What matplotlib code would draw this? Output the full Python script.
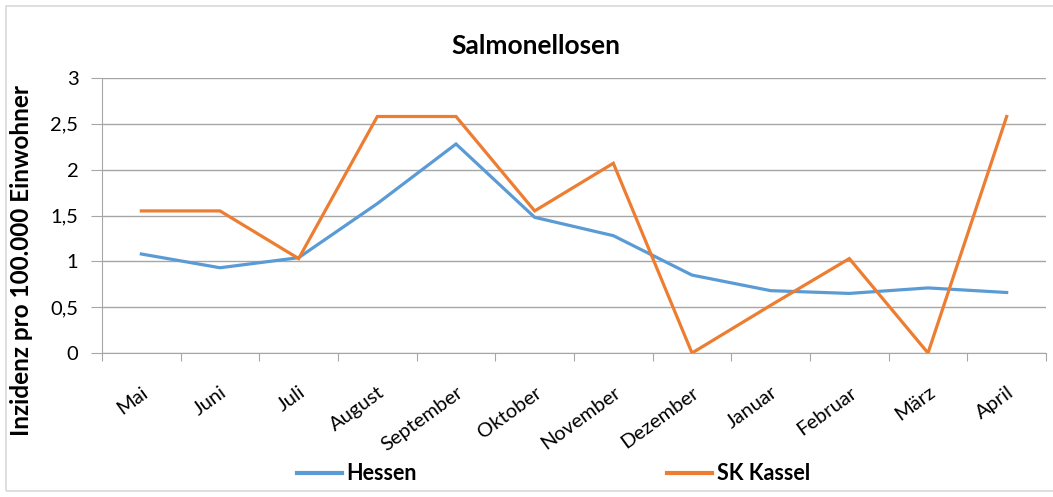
import matplotlib
matplotlib.use("Agg")
import matplotlib.pyplot as plt
from matplotlib.patches import Rectangle
from matplotlib.lines import Line2D

months = ["Mai", "Juni", "Juli", "August", "September", "Oktober", "November",
          "Dezember", "Januar", "Februar", "März", "April"]
hessen = [1.08, 0.93, 1.04, 1.63, 2.28, 1.48, 1.28, 0.85, 0.68, 0.65, 0.71, 0.66]
kassel = [1.55, 1.55, 1.03, 2.58, 2.58, 1.55, 2.07, 0.0, 0.52, 1.03, 0.0, 2.58]
yticks = [0, 0.5, 1, 1.5, 2, 2.5, 3]
ytick_labels = ["0", "0,5", "1", "1,5", "2", "2,5", "3"]

plt.rcParams['font.family'] = ['Lato', 'DejaVu Sans']

W, H = 1053, 497
fig = plt.figure(figsize=(W / 100, H / 100), dpi=100)
ax = fig.add_axes([102 / W, 1 - 353 / H, (1046 - 102) / W, (353 - 78) / H])

x = [i + 0.5 for i in range(len(months))]
blue = "#5B9BD5"
orange = "#ED7D31"
ax.plot(x, hessen, color=blue, lw=2.3, solid_joinstyle="miter", label="Hessen")
ax.plot(x, kassel, color=orange, lw=2.3, solid_joinstyle="miter", label="SK Kassel")

ax.set_xlim(0, len(months))
ax.set_ylim(0, 3)
ax.set_yticks(yticks)
ax.set_yticklabels(ytick_labels, fontsize=14.5)
ax.yaxis.grid(True, color="#A6A6A6", lw=1)
ax.set_axisbelow(True)

ax.set_xticks(range(len(months) + 1))
ax.set_xticklabels([])
ax.set_xticks(x, minor=True)
ax.set_xticklabels(months, minor=True, rotation=36, ha="right", rotation_mode="anchor", fontsize=14.5)
ax.tick_params(axis="x", which="minor", length=0, pad=22)
ax.tick_params(axis="x", which="major", length=6, color="#A6A6A6", direction="out")
ax.tick_params(axis="y", length=8, color="#A6A6A6", direction="out", pad=9)

for s in ["top", "right"]:
    ax.spines[s].set_visible(False)
for s in ["left", "bottom"]:
    ax.spines[s].set_color("#A6A6A6")

fig.text(22 / W, 1 - 260 / H, "Inzidenz pro 100.000 Einwohner", rotation=90,
         ha="center", va="center", fontsize=17.5, fontweight="bold")
fig.text(536 / W, 1 - 46 / H, "Salmonellosen", ha="center", va="center",
         fontsize=19, fontweight="bold")

# legend
leg_kw = dict(loc="center left", frameon=False, prop={"weight": "bold", "size": 15.5},
              handlelength=2.1, handletextpad=0.2, borderpad=0, borderaxespad=0)
fig.legend(handles=[Line2D([], [], color=blue, lw=3, label="Hessen")],
           bbox_to_anchor=(297 / W, 1 - 474 / H), **leg_kw)
fig.legend(handles=[Line2D([], [], color=orange, lw=3, label="SK Kassel")],
           bbox_to_anchor=(667 / W, 1 - 474 / H), **leg_kw)

fig.patches.append(Rectangle((6 / W, 1 - 491 / H), (1060 - 6) / W, (491 - 6) / H,
                             transform=fig.transFigure, fill=False, ec="#D9D9D9", lw=1.2))

fig.savefig("out.png", dpi=100)
